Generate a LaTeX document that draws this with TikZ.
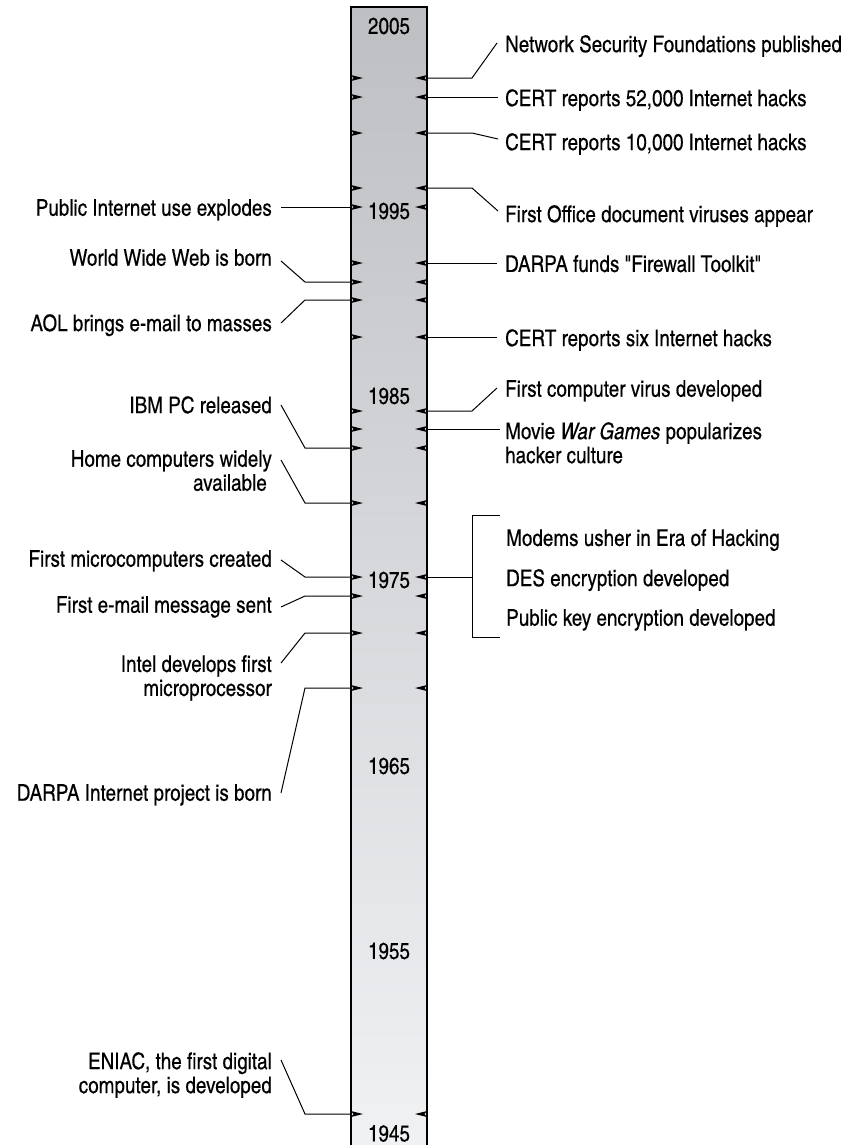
\documentclass[tikz,border=0pt]{standalone}
\usepackage{fontspec}
\IfFontExistsTF{TeX Gyre Heros Cn}{\newfontfamily\labfont{TeX Gyre Heros Cn}[FakeBold=0.3]}{\newfontfamily\labfont{TeX Gyre Heros}[FakeStretch=0.82]}
\definecolor{barTop}{RGB}{190,191,195}
\definecolor{barBot}{RGB}{241,242,244}
\newcommand\lab{\labfont\fontsize{23bp}{24bp}\selectfont}
\begin{document}
\begin{tikzpicture}[x=1bp,y=-1bp,
 lt/.style={anchor=north east, inner sep=0pt, align=right, font=\lab},
 rt/.style={anchor=north west, inner sep=0pt, align=left, font=\lab},
 yr/.style={inner sep=0pt, font=\lab},
 conn/.style={line width=1bp, line join=miter},
 barline/.style={line width=1.3bp}]
\useasboundingbox (0,0) rectangle (849,1145);
\clip (0,0) rectangle (849,1145);
% timeline bar
\shade[top color=barTop, bottom color=barBot] (351,7) rectangle (427,1160);
\draw[barline] (351,1160) -- (351,7) -- (427,7) -- (427,1160);
% marks
\foreach \y in {78,97,133,188,207,263,282,300,337,411,429,448,503,577,596,633,688,1114}{
  \coordinate (L\y) at (351,\y);
  \coordinate (R\y) at (427,\y);
  \fill (351,\y-3) -- (363,\y) -- (351,\y+3) -- (353.5,\y) -- cycle;
  \fill (427,\y-3) -- (415,\y) -- (427,\y+3) -- (424.5,\y) -- cycle;
}
% years
\node[yr] (y2005) at (389,26) {2005};
\node[yr] (y1995) at (389,211) {1995};
\node[yr] (y1985) at (389,396) {1985};
\node[yr] (y1975) at (389,580) {1975};
\node[yr] (y1965) at (389,766) {1965};
\node[yr] (y1955) at (389,951) {1955};
\node[yr] (y1945) at (389,1133.5) {1945};
% left labels
\node[lt] (pub) at (272,199) {Public Internet use explodes};
\node[lt] (www) at (272,249) {World Wide Web is born};
\node[lt] (aol) at (272,314) {AOL brings e-mail to masses};
\node[lt] (ibm) at (272,396) {IBM PC released};
\node[lt] (home) at (272,450) {Home computers widely\\available\hspace*{5bp}};
\node[lt] (micro) at (272,550) {First microcomputers created};
\node[lt] (email) at (272,596) {First e-mail message sent};
\node[lt] (intel) at (272,655) {Intel develops first\\microprocessor};
\node[lt] (darpa) at (272,784) {DARPA Internet project is born};
\node[lt] (eniac) at (272,1052) {ENIAC, the first digital\\computer, is developed};
% right labels
\node[rt] (nsf) at (505,35) {Network Security Foundations published};
\node[rt] (c52) at (505,89) {CERT reports 52,000 Internet hacks};
\node[rt] (c10) at (505,133) {CERT reports 10,000 Internet hacks};
\node[rt] (off) at (505,205) {First Office document viruses appear};
\node[rt] (fw) at (505,255) {DARPA funds "Firewall Toolkit"};
\node[rt] (six) at (505,329) {CERT reports six Internet hacks};
\node[rt] (virus) at (505,380) {First computer virus developed};
\node[rt] (movie) at (505,422) {Movie \textit{War Games} popularizes\\hacker culture};
\node[rt] (modems) at (506,529) {Modems usher in Era of Hacking};
\node[rt] (des) at (506,569) {DES encryption developed};
\node[rt] (pke) at (506,609) {Public key encryption developed};
% left connectors
\draw[conn] ([shift={(9,8)}]pub.north east) -- (L207);
\draw[conn] ([shift={(9,12)}]www.north east) -- (305,282) -- (L282);
\draw[conn] ([shift={(9,9)}]aol.north east) -- (305,300) -- (L300);
\draw[conn] ([shift={(9,9)}]ibm.north east) -- (305,448) -- (L448);
\draw[conn] ([shift={(9,10)}]home.north east) -- (305,503) -- (L503);
\draw[conn] ([shift={(9,10)}]micro.north east) -- (305,577) -- (L577);
\draw[conn] ([shift={(9,11)}]email.north east) -- (305,596) -- (L596);
\draw[conn] ([shift={(9,8)}]intel.north east) -- (305,633) -- (L633);
\draw[conn] ([shift={(9,9)}]darpa.north east) -- (305,688) -- (L688);
\draw[conn] ([shift={(9,8)}]eniac.north east) -- (305,1114) -- (L1114);
% right connectors
\draw[conn] (R78) -- (472,78) -- ([shift={(-8,8)}]nsf.north west);
\draw[conn] (R97) -- ([shift={(-7,8)}]c52.north west);
\draw[conn] (R133) -- (472,133) -- ([shift={(-7,6)}]c10.north west);
\draw[conn] (R188) -- (472,188) -- ([shift={(-7,6)}]off.north west);
\draw[conn] (R263) -- ([shift={(-8,8)}]fw.north west);
\draw[conn] (R337) -- ([shift={(-8,8)}]six.north west);
\draw[conn] (R411) -- (472,411) -- ([shift={(-8,8)}]virus.north west);
\draw[conn] (R429) -- ([shift={(-5,7)}]movie.north west);
% bracket
\draw[conn] (R577) -- (472,577);
\draw[conn] ([shift={(-6,-14)}]modems.north west) -- (472,515) -- (472,637) -- ([shift={(-6,28)}]pke.north west);
\end{tikzpicture}
\end{document}
